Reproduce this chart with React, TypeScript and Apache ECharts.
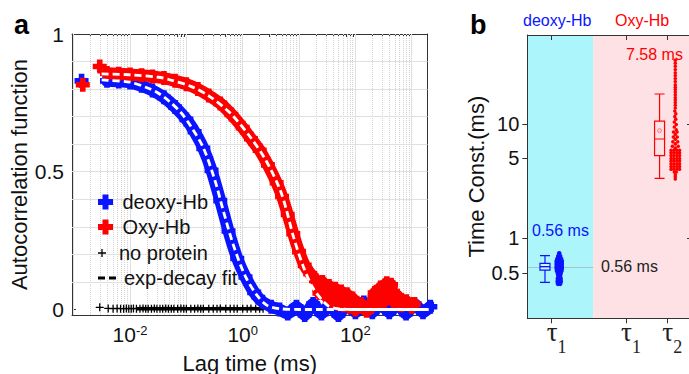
import React, { useEffect, useRef } from 'react';
import * as echarts from 'echarts';

const FONT = '"Liberation Sans", Arial, Helvetica, sans-serif';
const SERIF = '"Liberation Serif", "Times New Roman", serif';
const BLUE = '#0a14ff';
const RED = '#ff0000';
const PLUS = 'path://M3,0H7V3H10V7H7V10H3V7H0V3H3Z';
const THIN_PLUS = 'path://M4.2,0H5.8V4.2H10V5.8H5.8V10H4.2V5.8H0V4.2H4.2Z';
const DASH_ICON = 'path://M0,0H7V3H0Z M11,0H18V3H11Z';

// ---------- Panel a : autocorrelation vs lag time (ms) ----------
const deoxyEarlyLag = [0.00138];
const deoxyEarlyG = [0.83];
const deoxyLag = [0.0039, 0.0063, 0.01, 0.016, 0.025, 0.04, 0.063, 0.1, 0.14, 0.2, 0.28, 0.4, 0.56, 0.8, 1.12, 1.6, 2.24, 3.2, 4.5, 6.3, 9, 12.6, 17.8, 25, 35, 50, 71, 100, 141, 200, 282, 400, 562, 794, 1122, 1585, 2138];
const deoxyG = [0.83, 0.828, 0.824, 0.812, 0.795, 0.77, 0.735, 0.69, 0.645, 0.585, 0.505, 0.395, 0.285, 0.185, 0.118, 0.062, 0.028, 0.01, 0.0, -0.015, 0.01, -0.02, 0.02, -0.015, 0.015, -0.02, 0.02, -0.01, 0.025, -0.01, 0.02, -0.01, 0.02, -0.015, 0.02, -0.01, 0.01];

const oxyEarlyLag = [0.00145, 0.0029];
const oxyEarlyG = [0.816, 0.882];
const oxyLag = [0.0039, 0.0063, 0.01, 0.016, 0.025, 0.04, 0.063, 0.1, 0.16, 0.25, 0.4, 0.63, 1.0, 1.4, 2.0, 2.8, 4.0, 5.0, 6.3, 7.9, 10, 12.6, 15.8, 20, 23, 26, 30, 34, 39, 44, 50, 56, 63, 71, 79, 89, 100, 126, 158, 190, 220, 250, 280, 320, 360, 400, 430, 480, 550, 650, 800, 1000, 1100];
const oxyG = [0.858, 0.856, 0.853, 0.85, 0.846, 0.84, 0.83, 0.818, 0.8, 0.777, 0.748, 0.708, 0.66, 0.62, 0.578, 0.525, 0.46, 0.41, 0.345, 0.275, 0.21, 0.16, 0.13, 0.105, 0.06, 0.1, 0.05, 0.085, 0.03, 0.075, 0.02, 0.065, 0.015, 0.055, 0.01, 0.04, 0.0, 0.02, -0.005, 0.01, 0.06, 0.02, 0.08, 0.03, 0.095, 0.05, 0.09, 0.03, 0.05, 0.015, 0.03, 0.01, 0.02];

const fitDeoxyLag = [0.002, 0.004, 0.01, 0.02, 0.032, 0.05, 0.08, 0.12, 0.2, 0.32, 0.45, 0.68, 1.1, 1.8, 2.7, 4.5, 10, 2000];
const fitDeoxyG = [0.835, 0.832, 0.825, 0.805, 0.785, 0.755, 0.715, 0.665, 0.587, 0.47, 0.36, 0.235, 0.123, 0.051, 0.015, 0.003, 0, 0];
const fitOxyLag = [0.002, 0.01, 0.032, 0.05, 0.12, 0.26, 0.6, 1.35, 2.6, 4.6, 6.0, 7.8, 11.7, 17.8, 32, 48, 100, 2000];
const fitOxyG = [0.856, 0.852, 0.843, 0.834, 0.81, 0.773, 0.713, 0.627, 0.54, 0.435, 0.36, 0.27, 0.16, 0.077, 0.015, 0.003, 0, 0];

const npLag = [0.0029, 0.0041, 0.005, 0.0059, 0.0068, 0.0077, 0.0086, 0.0095, 0.0105, 0.0115, 0.013, 0.015, 0.017, 0.019, 0.021, 0.024, 0.027, 0.03, 0.034, 0.038, 0.043, 0.048, 0.054, 0.06, 0.07, 0.08, 0.09, 0.1, 0.12, 0.14, 0.16, 0.18, 0.2, 0.25, 0.3, 0.35, 0.4, 0.5, 0.6, 0.7, 0.8, 1.0, 1.2, 1.4, 1.7, 2.0, 2.3];
const npG = [0.008, 0.004, 0.003, 0.004, 0.003, 0.003, 0.004, 0.003, 0.003, 0.004, 0.003, 0.003, 0.004, 0.003, 0.003, 0.003, 0.004, 0.003, 0.003, 0.003, 0.004, 0.003, 0.003, 0.003, 0.003, 0.004, 0.003, 0.003, 0.003, 0.003, 0.004, 0.003, 0.003, 0.003, 0.003, 0.003, 0.004, 0.003, 0.003, 0.003, 0.003, 0.003, 0.003, 0.004, 0.003, 0.003, 0.003];

const decades = [-3, -2, -1, 0, 1, 2, 3];
const minorMult = [2, 3, 4, 5, 6, 7, 8, 9];
const xLabelExp = [-2, 0, 2];
const yTicks = [0, 0.1, 0.2, 0.3, 0.4, 0.5, 0.6, 0.7, 0.8, 0.9, 1];
const yGrid = [0.1, 0.2, 0.3, 0.4, 0.5, 0.6, 0.7, 0.8, 0.9];
const yLabels = [0, 0.5, 1];

// ---------- Panel b : time constants (ms) ----------
const tauTickX = [14.9, 60.3, 85.5];
const tauSub = ['1', '1', '2'];
const bTicks = [0.5, 1, 5, 10];
const bRightTicks = [1, 10];
const boxX = [10.8, 80.8];
const deoxyTau1Box = [0.412, 0.528, 0.565, 0.604, 0.705];
const oxyTau2Box = [3.35, 5.28, 7.39, 10.6, 18.3];
const oxyTau2Mean = [8.74];
const refLine = 0.56;
const regionSplit = 40.3;
const deoxySwarmX = 19.5;
const oxySwarmX = 90.4;
const deoxySwarmMs = [0.74, 0.70, 0.70, 0.66, 0.66, 0.66, 0.63, 0.63, 0.63, 0.60, 0.60, 0.60, 0.57, 0.57, 0.57, 0.545, 0.545, 0.545, 0.52, 0.52, 0.52, 0.495, 0.495, 0.47, 0.47, 0.445, 0.445, 0.42, 0.42, 0.40, 0.40];
const deoxySwarmJitter = [0, -0.6, 0.6, -1.2, 0, 1.2, -1.6, 0, 1.6, -1.6, 0, 1.6, -1.6, 0, 1.6, -1.6, 0, 1.6, -1.4, 0, 1.4, -0.9, 0.9, -0.6, 0.6, -0.9, 0.9, -1, 1, -0.8, 0.6];
const oxySwarmMs = [
  36, 34, 32, 30, 28, 26.5, 25, 23.5, 22, 21, 20, 19, 18, 17, 16.2, 15.4, 14.6, 13.8,
  13.0, 12.3, 11.6, 11.0,
  10.4, 9.9, 9.4, 8.9,
  8.5, 8.5, 8.1, 7.7, 7.7, 7.35,
  7.0, 7.0, 6.7, 6.4, 6.4, 6.15,
  5.9, 5.9, 5.9, 5.9,
  5.6, 5.6, 5.6, 5.6,
  5.3, 5.3, 5.3, 5.3,
  5.0, 5.0, 5.0, 5.0,
  4.75, 4.75, 4.75, 4.75,
  4.5, 4.5, 4.5, 4.5,
  4.25, 4.25, 4.25, 4.25,
  4.02, 4.02, 4.02, 4.02,
  3.8, 3.8, 3.6, 3.45, 3.3,
];
const oxySwarmJitter = [
  0, 0, 0, 0, 0, 0, 0, 0, 0, 0, 0, 0, 0, 0, 0, 0, 0, 0,
  -0.3, 0.3, -0.3, 0.3,
  -0.6, 0.6, -0.6, 0.6,
  -1.1, 1.1, 0, -1.2, 1.2, 0,
  -1.5, 1.5, 0, -1.8, 1.8, 0,
  -2.6, -0.9, 0.9, 2.6,
  -2.6, -0.9, 0.9, 2.6,
  -2.6, -0.9, 0.9, 2.6,
  -2.6, -0.9, 0.9, 2.6,
  -2.6, -0.9, 0.9, 2.6,
  -2.6, -0.9, 0.9, 2.6,
  -2.6, -0.9, 0.9, 2.6,
  -2.6, -0.9, 0.9, 2.6,
  -0.6, 0.6, 0, 0, 0,
];

const lg = (v: number) => Math.log10(v);
const pts = (xs: number[], ys: number[]) => xs.map((x, i) => [lg(x), ys[i]]);

function buildOption(): any {
  const X_MIN = -3.03;
  const X_MAX = 3.28;
  const inDecades = decades.filter((d) => d > X_MIN && d < X_MAX);
  const minors = decades
    .flatMap((d) => minorMult.map((m) => d + lg(m)))
    .filter((v) => v > X_MIN && v < X_MAX);

  const gridLines = [
    ...inDecades.map((d) => ({ xAxis: d, lineStyle: { color: '#e0e0e0', type: 'solid', width: 1 } })),
    ...minors.map((v) => ({ xAxis: v, lineStyle: { color: '#d2d2d2', type: 'dotted', width: 1 } })),
    ...yGrid.map((v) => ({ yAxis: v, lineStyle: { color: '#e0e0e0', type: 'solid', width: 1 } })),
  ];

  const axisText = { color: '#111', fontFamily: FONT };
  const frameLine = { show: true, onZero: false, lineStyle: { color: '#333', width: 1 } };
  const solid = (color: string) => ({ color, borderWidth: 0, borderColor: color, opacity: 1 });

  const legendBase = {
    orient: 'vertical',
    left: 98,
    padding: 0,
    itemWidth: 18,
    selectedMode: false,
    z: 8,
    textStyle: { fontSize: 20, color: '#111', fontFamily: FONT, padding: [0, 0, 0, 3] },
  };

  const dataLine = (name: string, color: string, xs: number[], ys: number[], z: number) => ({
    type: 'line',
    name,
    xAxisIndex: 0,
    yAxisIndex: 0,
    data: pts(xs, ys),
    smooth: 0.2,
    clip: false,
    symbol: 'none',
    showSymbol: false,
    itemStyle: solid(color),
    lineStyle: { color, width: 12, cap: 'round', join: 'round', opacity: 1 },
    z,
    silent: true,
  });

  const dataPts = (name: string, color: string, xs: number[], ys: number[], z: number) => ({
    type: 'scatter',
    name,
    xAxisIndex: 0,
    yAxisIndex: 0,
    data: pts(xs, ys),
    symbol: PLUS,
    symbolSize: 14,
    clip: false,
    itemStyle: solid(color),
    z,
    silent: true,
  });

  const fitLine = (xs: number[], ys: number[]) => ({
    type: 'line',
    name: 'exp-decay fit',
    xAxisIndex: 0,
    yAxisIndex: 0,
    data: pts(xs, ys),
    smooth: 0.3,
    symbol: 'none',
    itemStyle: { color: '#ffffff' },
    lineStyle: { color: '#ffffff', width: 2.8, type: [7, 4] },
    z: 8,
    silent: true,
  });

  return {
    animation: false,
    textStyle: { fontFamily: FONT },
    title: [
      { text: 'a', left: 14, top: 11, padding: 0, textStyle: { fontSize: 27, fontWeight: 'bold', color: '#000', fontFamily: FONT } },
      { text: 'b', left: 470, top: 11, padding: 0, textStyle: { fontSize: 27, fontWeight: 'bold', color: '#000', fontFamily: FONT } },
      { text: 'deoxy-Hb', left: 523, top: 12, padding: 0, textStyle: { fontSize: 16, fontWeight: 'normal', color: BLUE, fontFamily: FONT } },
      { text: 'Oxy-Hb', left: 615, top: 12, padding: 0, textStyle: { fontSize: 16, fontWeight: 'normal', color: RED, fontFamily: FONT } },
      { text: '0.56 ms', left: 532, top: 222, padding: 0, textStyle: { fontSize: 16, fontWeight: 'normal', color: BLUE, fontFamily: FONT } },
      { text: '7.58 ms', left: 626, top: 46, padding: 0, textStyle: { fontSize: 16, fontWeight: 'normal', color: RED, fontFamily: FONT } },
      { text: '0.56 ms', left: 601, top: 258, padding: 0, textStyle: { fontSize: 16, fontWeight: 'normal', color: '#222', fontFamily: FONT } },
    ],
    legend: [
      { ...legendBase, top: 192, itemHeight: 15, data: [{ name: 'deoxy-Hb', icon: PLUS, itemStyle: solid(BLUE) }] },
      { ...legendBase, top: 217, itemHeight: 15, data: [{ name: 'Oxy-Hb', icon: PLUS, itemStyle: solid(RED) }] },
      { ...legendBase, top: 243, itemHeight: 8, data: [{ name: 'no protein', icon: THIN_PLUS, itemStyle: solid('#000') }] },
      { ...legendBase, top: 268, itemHeight: 3, data: [{ name: 'exp-decay fit', icon: DASH_ICON, itemStyle: solid('#000') }] },
    ],
    grid: [
      { left: 72, top: 34, width: 355.5, height: 281, outerBoundsMode: 'none', containLabel: false },
      { left: 527.3, top: 35, width: 163.7, height: 283.3, outerBoundsMode: 'none', containLabel: false },
    ],
    xAxis: [
      {
        type: 'value', gridIndex: 0, position: 'bottom', min: X_MIN, max: X_MAX,
        axisLine: frameLine,
        axisTick: { show: true, inside: true, length: 4, customValues: inDecades, lineStyle: { color: '#333' } },
        axisLabel: {
          customValues: xLabelExp, margin: 9,
          formatter: (v: number) => `{b|10}{s|${v}}`,
          rich: {
            b: { fontSize: 21, color: '#111', fontFamily: FONT, verticalAlign: 'bottom' },
            s: { fontSize: 13, color: '#111', fontFamily: FONT, verticalAlign: 'top' },
          },
        },
        splitLine: { show: false },
        name: 'Lag time (ms)', nameLocation: 'middle', nameGap: 37, nameMoveOverlap: false,
        nameTextStyle: { fontSize: 22, ...axisText },
      },
      {
        type: 'value', gridIndex: 0, position: 'top', min: X_MIN, max: X_MAX,
        axisLine: frameLine,
        axisTick: { show: true, inside: true, length: 3, customValues: [...inDecades, ...minors], lineStyle: { color: '#333' } },
        axisLabel: { show: false },
        splitLine: { show: false },
      },
      {
        type: 'value', gridIndex: 1, position: 'bottom', min: 0, max: 100, z: 6,
        axisLine: frameLine,
        axisTick: { show: true, inside: false, length: 5, customValues: tauTickX, lineStyle: { color: '#333' } },
        axisLabel: {
          customValues: tauTickX, margin: 0,
          formatter: (v: number) => {
            const i = tauTickX.findIndex((t) => Math.abs(t - v) < 1e-6);
            return `{t|τ}{s|${tauSub[i < 0 ? 0 : i]}}`;
          },
          rich: {
            t: { fontSize: 27, color: '#222', fontFamily: SERIF, verticalAlign: 'top', padding: [0, 0, 0, 10] },
            s: { fontSize: 18, color: '#222', fontFamily: SERIF, verticalAlign: 'top', padding: [20, 0, 0, 0] },
          },
        },
        splitLine: { show: false },
      },
      {
        type: 'value', gridIndex: 1, position: 'top', min: 0, max: 100, z: 6,
        axisLine: frameLine,
        axisTick: { show: true, inside: true, length: 5, customValues: tauTickX, lineStyle: { color: '#333' } },
        axisLabel: { show: false },
        splitLine: { show: false },
      },
    ],
    yAxis: [
      {
        type: 'value', gridIndex: 0, position: 'left', min: -0.02, max: 1,
        axisLine: frameLine,
        axisTick: { show: true, inside: true, length: 4, customValues: yTicks, lineStyle: { color: '#333' } },
        axisLabel: { customValues: yLabels, fontSize: 21, margin: 8, ...axisText, formatter: (v: number) => String(v) },
        splitLine: { show: false },
        name: 'Autocorrelation function', nameLocation: 'middle', nameGap: 42, nameMoveOverlap: false,
        nameTextStyle: { fontSize: 22, ...axisText },
      },
      {
        type: 'value', gridIndex: 0, position: 'right', min: -0.02, max: 1,
        axisLine: frameLine,
        axisTick: { show: true, inside: true, length: 4, customValues: yTicks, lineStyle: { color: '#333' } },
        axisLabel: { show: false },
        splitLine: { show: false },
      },
      {
        type: 'value', gridIndex: 1, position: 'left', min: lg(0.2), max: lg(60), z: 6,
        axisLine: frameLine,
        axisTick: { show: true, inside: false, length: 5, customValues: bTicks.map(lg), lineStyle: { color: '#333' } },
        axisLabel: {
          customValues: bTicks.map(lg), fontSize: 20, margin: 8, ...axisText,
          formatter: (v: number) => {
            const t = Math.pow(10, v);
            return t < 1 ? t.toFixed(1) : String(Math.round(t));
          },
        },
        splitLine: { show: false },
        name: 'Time Const.(ms)', nameLocation: 'middle', nameGap: 40, nameMoveOverlap: false,
        nameTextStyle: { fontSize: 22, ...axisText },
      },
      {
        type: 'value', gridIndex: 1, position: 'right', min: lg(0.2), max: lg(60), z: 6,
        axisLine: frameLine,
        axisTick: { show: true, inside: true, length: 4, customValues: bRightTicks.map(lg), lineStyle: { color: '#333' } },
        axisLabel: { show: false },
        splitLine: { show: false },
      },
    ],
    series: [
      {
        type: 'line', name: 'grid-a', xAxisIndex: 0, yAxisIndex: 0, data: [[-10, -10]], symbol: 'none',
        lineStyle: { opacity: 0 }, z: 1, silent: true,
        markLine: { z: 1, silent: true, symbol: ['none', 'none'], label: { show: false }, data: gridLines, animation: false },
      },
      {
        type: 'line', name: 'np-band', xAxisIndex: 0, yAxisIndex: 0,
        data: pts(npLag.slice(10), npG.slice(10)), symbol: 'none',
        lineStyle: { color: '#000', width: 3.5 }, z: 2, silent: true,
      },
      {
        type: 'scatter', name: 'no protein', xAxisIndex: 0, yAxisIndex: 0,
        data: pts(npLag, npG), symbol: THIN_PLUS, symbolSize: 8,
        itemStyle: solid('#000'), z: 2, silent: true,
      },
      dataLine('deoxy-Hb', BLUE, deoxyLag, deoxyG, 3),
      dataPts('deoxy-Hb', BLUE, deoxyLag, deoxyG, 3),
      dataPts('deoxy-Hb', BLUE, deoxyEarlyLag, deoxyEarlyG, 3),
      dataLine('Oxy-Hb', RED, oxyLag, oxyG, 4),
      dataPts('Oxy-Hb', RED, oxyLag, oxyG, 4),
      dataPts('Oxy-Hb', RED, oxyEarlyLag, oxyEarlyG, 4),
      fitLine(fitDeoxyLag, fitDeoxyG),
      fitLine(fitOxyLag, fitOxyG),

      // Panel b
      {
        type: 'line', name: 'bg-b', xAxisIndex: 2, yAxisIndex: 2, data: [[-10, -10]], symbol: 'none',
        lineStyle: { opacity: 0 }, z: 1, silent: true,
        markArea: {
          z: 1,
          silent: true,
          data: [
            [{ xAxis: 0, itemStyle: { color: '#acf5fa' } }, { xAxis: regionSplit }],
            [{ xAxis: regionSplit, itemStyle: { color: '#fde1e4' } }, { xAxis: 100 }],
          ],
        },
        markLine: {
          z: 2,
          silent: true, symbol: ['none', 'none'], label: { show: false },
          lineStyle: { color: '#a8c4c8', width: 1, type: 'solid' },
          data: [[{ coord: [0, lg(refLine)] }, { coord: [regionSplit, lg(refLine)] }]],
        },
      },
      {
        type: 'boxplot', name: 'box', xAxisIndex: 2, yAxisIndex: 2, layout: 'horizontal',
        boxWidth: [10, 10], z: 3, silent: true,
        data: [
          { value: [boxX[0], ...deoxyTau1Box.map(lg)], itemStyle: { borderColor: BLUE, color: 'rgba(255,255,255,0.35)', borderWidth: 1.2 } },
          { value: [boxX[1], ...oxyTau2Box.map(lg)], itemStyle: { borderColor: RED, color: 'rgba(0,0,0,0)', borderWidth: 1.2 } },
        ],
      },
      {
        type: 'scatter', name: 'mean', xAxisIndex: 2, yAxisIndex: 2,
        data: oxyTau2Mean.map((m) => [boxX[1], lg(m)]), symbol: 'circle', symbolSize: 4,
        itemStyle: { color: 'rgba(255,180,180,0.6)', borderColor: '#ff6060', borderWidth: 1 }, z: 4, silent: true,
      },
      {
        type: 'scatter', name: 'deoxy-swarm', xAxisIndex: 2, yAxisIndex: 2,
        data: deoxySwarmMs.map((v, i) => [deoxySwarmX + deoxySwarmJitter[i], lg(v)]),
        symbol: 'circle', symbolSize: 4.5, itemStyle: solid(BLUE), z: 4, silent: true,
      },
      {
        type: 'scatter', name: 'oxy-swarm', xAxisIndex: 2, yAxisIndex: 2,
        data: oxySwarmMs.map((v, i) => [oxySwarmX + oxySwarmJitter[i], lg(v)]),
        symbol: 'circle', symbolSize: 3.5, itemStyle: solid(RED), z: 4, silent: true,
      },
    ],
  };
}

export default function App() {
  const ref = useRef<HTMLDivElement>(null);
  useEffect(() => {
    if (!ref.current) return;
    const chart = echarts.init(ref.current, null, { renderer: 'svg' });
    chart.setOption(buildOption());
    return () => chart.dispose();
  }, []);
  return <div ref={ref} style={{ position: 'fixed', left: 0, top: 0, width: 689, height: 374, background: '#fff' }} />;
}
